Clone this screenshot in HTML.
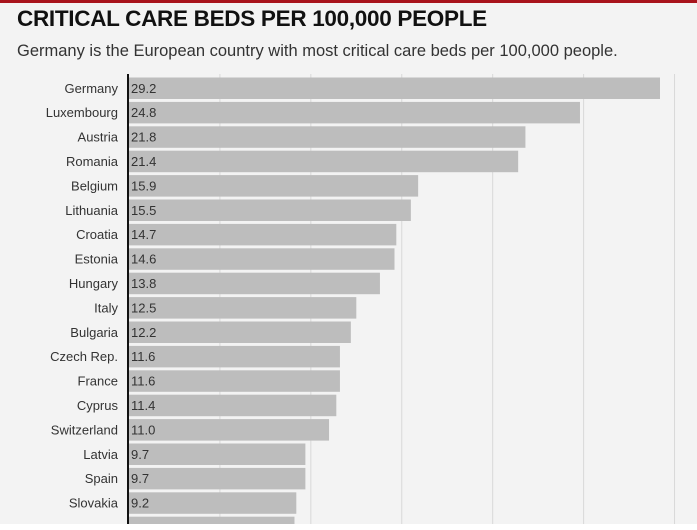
<!DOCTYPE html>
<html><head><meta charset="utf-8"><style>
body{margin:0;width:697px;height:530px;overflow:hidden;background:#f3f3f3;font-family:"Liberation Sans",sans-serif;position:relative}
#top{position:absolute;left:0;top:0;width:697px;height:3px;background:#a8131b}
#title{position:absolute;left:17px;top:6px;font-size:22.5px;font-weight:bold;color:#111;letter-spacing:-0.3px}
#sub{position:absolute;left:17px;top:42px;font-size:16.5px;color:#333}
#foot{position:absolute;left:0;top:524px;width:697px;height:6px;background:#fff}
</style></head><body>
<div id="top"></div>
<div id="title">CRITICAL CARE BEDS PER 100,000 PEOPLE</div>
<div id="sub">Germany is the European country with most critical care beds per 100,000 people.</div>
<svg id="chart" width="697" height="530" style="position:absolute;left:0;top:0"></svg>
<div id="foot"></div>
<script>
const categories=["Germany","Luxembourg","Austria","Romania","Belgium","Lithuania","Croatia","Estonia","Hungary","Italy","Bulgaria","Czech Rep.","France","Cyprus","Switzerland","Latvia","Spain","Slovakia","Next"];
const values=[29.2,24.8,21.8,21.4,15.9,15.5,14.7,14.6,13.8,12.5,12.2,11.6,11.6,11.4,11.0,9.7,9.7,9.2,9.1];
const gridTicks=[5,10,15,20,25,30];
const NS="http://www.w3.org/2000/svg";
const svg=document.getElementById('chart');
const x0=129, scale=(660-129)/29.2;
const xs=v=>x0+v*scale;
const y0=77.5, step=24.4, bh=21.5;
const ys=i=>y0+i*step;
function mk(t,a){const e=document.createElementNS(NS,t);for(const k in a)e.setAttribute(k,a[k]);svg.appendChild(e);return e;}
gridTicks.forEach(t=>{
  const l=mk('line',{x1:xs(t),x2:xs(t),y1:74,y2:524,stroke:'#d8d8d8','stroke-width':1});
  
  
});
values.forEach((v,i)=>{
  const r=mk('rect',{x:x0,y:ys(i),width:xs(v)-x0,height:bh,fill:'#bdbdbd'});
  
  
  if(i<18){
    const lab=mk('text',{x:118,y:ys(i)+bh/2+4.5,'text-anchor':'end','font-size':13,fill:'#333','font-family':'Liberation Sans, sans-serif'});
    lab.textContent=categories[i];
    
    
    const val=mk('text',{x:x0+2,y:ys(i)+bh/2+4.5,'font-size':13,fill:'#333','font-family':'Liberation Sans, sans-serif'});
    val.textContent=v.toFixed(1);
    
    
  }
});
const ax=mk('line',{x1:128,x2:128,y1:74,y2:524,stroke:'#111','stroke-width':2});


</script>
</body></html>
